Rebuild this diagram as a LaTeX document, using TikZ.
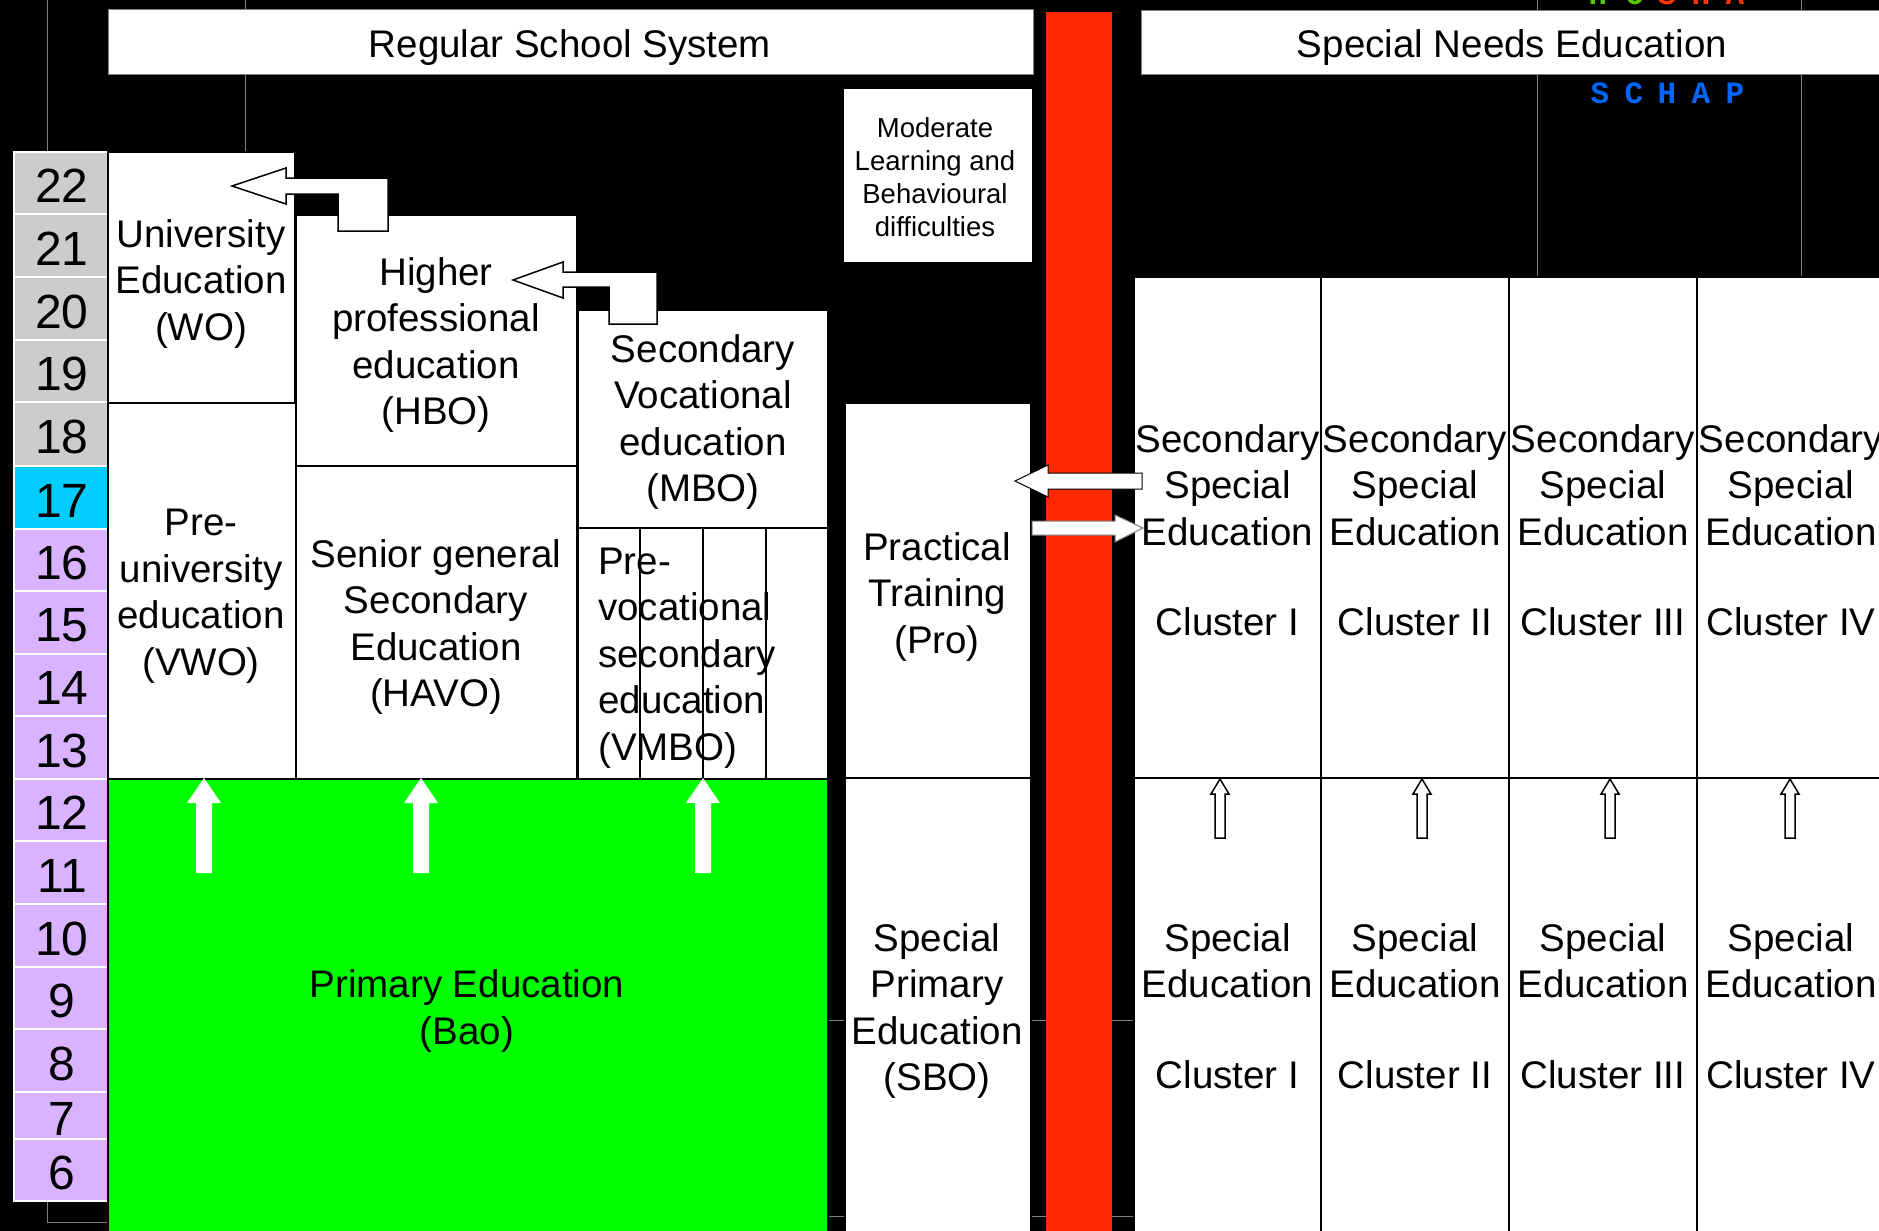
\documentclass[tikz,border=0pt]{standalone}
\usepackage{fontspec}
\setmainfont{Liberation Sans}
\newfontfamily\monofont{Liberation Mono}
\definecolor{redbar}{RGB}{255,40,0}
\definecolor{pgreen}{RGB}{0,255,0}
\definecolor{lav}{RGB}{217,179,255}
\definecolor{cyanc}{RGB}{0,204,255}
\definecolor{greyc}{RGB}{204,204,204}
\definecolor{schapblue}{RGB}{0,102,255}
\definecolor{topgreen}{RGB}{90,200,0}
\definecolor{topred}{RGB}{255,51,0}
\definecolor{gridg}{RGB}{128,128,128}
\tikzset{
 wbox/.style={fill=white, draw=black, line width=2pt},
 hbox/.style={fill=white, draw=gridg, line width=1pt},
 txt/.style={align=center, inner sep=0pt, font=\fontsize{38.5}{46.5}\selectfont},
 smalltxt/.style={align=center, inner sep=0pt, font=\fontsize{27.5}{33}\selectfont},
 numtxt/.style={inner sep=0pt, font=\fontsize{48}{50}\selectfont},
 cellbox/.style={draw=white, line width=1.5pt},
 gridline/.style={draw=gridg, line width=1pt},
 openarrow/.style={fill=white, draw=black, line width=1.5pt, line join=miter},
 solidarrow/.style={fill=white},
 lettr/.style={inner sep=0pt, anchor=base, font=\monofont\bfseries\fontsize{31}{33}\selectfont},
}
\begin{document}
\begin{tikzpicture}[x=1pt,y=-1pt]
\useasboundingbox (0,0) rectangle (1879,1231);
\clip (0,0) rectangle (1879,1231);
\fill[black] (0,0) rectangle (1879,1231);

% faint grid lines of the background
\draw[gridline] (47,0) -- (47,1222) -- (108,1222);
\draw[gridline] (245,0) -- (245,152);
\draw[gridline] (1537,0) -- (1537,277);
\draw[gridline] (1801,0) -- (1801,277);
\draw[gridline] (828,1020) -- (1879,1020);
\draw[gridline] (828,1216) -- (1879,1216);

% partly hidden coloured letters at the top
\foreach \x/\l/\c [count=\k] in {1598/H/topgreen,1635/O/topgreen,1667/S/topred,1701/H/topred,1735/A/topred}
  \node[lettr, text=\c] (top\k) at (\x,5) {\l};

% headers
\draw[hbox] (108,10) rectangle (1033,75);
\node[txt] (regular) at (570,48) {Regular School System};
\draw[hbox] (1141,11) rectangle (1890,75);
\node[txt] (sne) at (1512,48) {Special Needs Education};

% SCHAP
\foreach \x/\l [count=\k] in {1600/S,1634/C,1667/H,1701/A,1735/P}
  \node[lettr, text=schapblue] (schap\k) at (\x,103) {\l};

% age column
\foreach \n/\t/\b/\c in {22/152/214/greyc,21/214/277/greyc,20/277/340/greyc,19/340/402/greyc,18/402/466/greyc,17/466/529/cyanc,16/529/591/lav,15/591/654/lav,14/654/716/lav,13/716/779/lav,12/779/841/lav,11/841/904/lav,10/904/967/lav,9/967/1029/lav,8/1029/1092/lav,7/1092/1139/lav,6/1139/1201/lav}
{
  \draw[cellbox, fill=\c] (14,\t) rectangle (108,\b);
  \node[numtxt] (age\n) at (62,{(\t+\b)/2+3}) {\n};
}

% regular system blocks
\draw[wbox] (108,152) rectangle (295,403);
\node[txt] (wo) at (201,284) {University\\Education\\(WO)};
\draw[wbox] (108,403) rectangle (296,779);
\node[txt] (vwo) at (201,596) {Pre-\\university\\education\\(VWO)};
\draw[wbox] (296,215) rectangle (577,466);
\node[txt] (hbo) at (436,345) {Higher\\professional\\education\\(HBO)};
\draw[wbox] (296,466) rectangle (577,779);
\node[txt] (havo) at (436,627) {Senior general\\Secondary\\Education\\(HAVO)};
\draw[wbox] (578,310) rectangle (828,528);
\node[txt] (mbo) at (703,422) {Secondary\\Vocational\\education\\(MBO)};
\draw[wbox] (578,528) rectangle (828,779);
\node[txt, align=left, anchor=west] (vmbo) at (598,658) {Pre-\\vocational\\secondary\\education\\(VMBO)};
\foreach \x in {640,703,766} \draw[black, line width=1.6pt] (\x,528) -- (\x,779);

\draw[fill=pgreen, draw=black, line width=2pt] (108,779) rectangle (828,1240);
\node[txt] (bao) at (467,1011) {Primary Education\\(Bao)};

% special needs, left of the red bar
\draw[wbox] (843,88) rectangle (1033,263);
\node[smalltxt] (mlbd) at (935,177) {Moderate\\Learning and\\Behavioural\\difficulties};
\draw[wbox] (845,403) rectangle (1031,778);
\node[txt] (pro) at (937,597) {Practical\\Training\\(Pro)};
\draw[wbox] (845,778) rectangle (1031,1240);
\node[txt] (sbo) at (937,1011) {Special\\Primary\\Education\\(SBO)};

% red bar
\fill[redbar] (1046,12) rectangle (1112,1240);

% cluster columns
\foreach \xa/\xb/\lab in {1134/1321/I,1321/1509/II,1509/1697/III,1697/1885/IV}
{
  \draw[wbox] (\xa,277) rectangle (\xb,778);
  \draw[wbox] (\xa,778) rectangle (\xb,1240);
  \node[txt] (vso\lab) at ({(\xa+\xb)/2},530) {Secondary\\Special\\Education\\[44pt]Cluster \lab};
  \node[txt] (so\lab) at ({(\xa+\xb)/2},1006) {Special\\Education\\[44pt]Cluster \lab};
}

% bent open arrows
\draw[openarrow] (232,186) -- (286,168) -- (286,178) -- (388,178) -- (388,231) -- (338,231) -- (338,194) -- (286,194) -- (286,204) -- cycle;
\draw[openarrow] (513,280) -- (563,262) -- (563,272) -- (657,272) -- (657,324) -- (609,324) -- (609,287) -- (563,287) -- (563,298) -- cycle;

% arrows across the red bar
\draw[openarrow, line width=1pt] (1015,481) -- (1048,465) -- (1048,473) -- (1142,473) -- (1142,489) -- (1048,489) -- (1048,497) -- cycle;
\draw[openarrow, line width=1pt, draw=gridg] (1032,521) -- (1115,521) -- (1115,515) -- (1143,528) -- (1115,542) -- (1115,535) -- (1032,535) -- cycle;

% white arrows in primary education
\foreach \x in {204,421,703}
  \fill[white] (\x,778) -- (\x+17,803) -- (\x+8,803) -- (\x+8,873) -- (\x-8,873) -- (\x-8,803) -- (\x-17,803) -- cycle;

% small open arrows in clusters
\foreach \x in {1220,1422,1610,1790}
  \draw[openarrow] (\x,779) -- (\x+9,794) -- (\x+5,794) -- (\x+5,838) -- (\x-5,838) -- (\x-5,794) -- (\x-9,794) -- cycle;
\end{tikzpicture}
\end{document}
